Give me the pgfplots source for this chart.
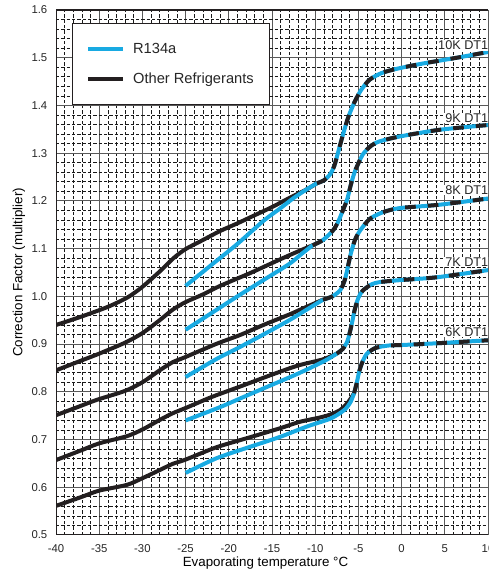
\documentclass[border=0pt]{standalone}
\usepackage{fontspec}
\setmainfont{Liberation Sans}
\usepackage{pgfplots}
\pgfplotsset{compat=1.18}
\definecolor{cyanR}{RGB}{24,170,226}
\definecolor{blk}{RGB}{35,31,32}
\begin{document}
\begin{tikzpicture}
\begin{axis}[
 width=324pt, height=393.75pt, scale only axis,
 xmin=-40, xmax=10, ymin=0.5, ymax=1.6,
 xtick={-40,-35,-30,-25,-20,-15,-10,-5,0,5,10},
 xticklabels={-40,-35,-30,-25,-20,-15,-10,-5,0,5,10},
 ytick={0.5,0.6,0.7,0.8,0.9,1.0,1.1,1.2,1.3,1.4,1.5,1.6},
 yticklabels={0.5,0.6,0.7,0.8,0.9,1.0,1.1,1.2,1.3,1.4,1.5,1.6},
 minor x tick num=4, minor y tick num=4,
 grid=both,
 major grid style={draw=black!65, line width=0.75pt},
 minor grid style={draw=black!90, line width=0.5pt, dash pattern=on 2.4pt off 1.6pt},
 major tick length=0pt, minor tick length=0pt,
 axis line style={draw=none},
 tick label style={font=\fontsize{8.5}{10}\selectfont, text=black!85},
 xticklabel style={yshift=-4pt},
 yticklabel style={xshift=-3pt},
 xlabel={Evaporating temperature °C},
 ylabel={Correction Factor (multiplier)},
 label style={font=\fontsize{9.3}{11}\selectfont, text=black!85},
 every axis x label/.style={at={(axis description cs:0.485,0)}, anchor=center, yshift=-21pt},
 every axis y label/.style={at={(axis description cs:-0.086,0.5)}, anchor=center, rotate=90},
 legend style={at={(axis description cs:0.037,0.975)}, anchor=north west, draw=blk, line width=0.7pt, fill=white, inner xsep=10.5pt, inner ysep=13.5pt, row sep=11pt, font=\fontsize{11}{13}\selectfont, text=black!85, cells={anchor=west}, nodes={inner sep=1pt}, /tikz/every odd column/.append style={column sep=5pt}},
 legend image code/.code={\draw[#1, line width=3pt, sharp plot] (0pt,0pt) -- (26pt,0pt);},
 every axis plot/.append style={line width=3pt, smooth, tension=0.45, line join=round},
]
\addlegendimage{cyanR}
\addlegendentry{R134a}
\addlegendimage{blk}
\addlegendentry{Other Refrigerants}

% 10K
\addplot[blk, forget plot] coordinates {(-40,0.940) (-37,0.958) (-34,0.978) (-31.7,0.998) (-30,1.020) (-28,1.052) (-26.4,1.080) (-25,1.099) (-23,1.118) (-21,1.137) (-19,1.153) (-17,1.170) (-15,1.187) (-13,1.206) (-11,1.224) (-9.8,1.237)};
\addplot[cyanR, forget plot] coordinates {(-25,1.022) (-22,1.066) (-19,1.110) (-16,1.158) (-14,1.185) (-12.5,1.206) (-11,1.224) (-9.8,1.237)};
\addplot[cyanR, forget plot] coordinates {(-9.8,1.237) (-9.0,1.243) (-8.3,1.255) (-7.8,1.273) (-7.3,1.305) (-6.8,1.338) (-6.2,1.374) (-5.5,1.405) (-4.7,1.432) (-3.7,1.454) (-2.3,1.468) (-0.5,1.477) (2.5,1.488) (6.4,1.500) (10,1.512)};
\addplot[blk, dash pattern=on 8pt off 9pt, forget plot] coordinates {(-9.8,1.237) (-9.0,1.243) (-8.3,1.255) (-7.8,1.273) (-7.3,1.305) (-6.8,1.338) (-6.2,1.374) (-5.5,1.405) (-4.7,1.432) (-3.7,1.454) (-2.3,1.468) (-0.5,1.477) (2.5,1.488) (6.4,1.500) (10,1.512)};

% 9K
\addplot[blk, forget plot] coordinates {(-40,0.845) (-37,0.866) (-35,0.880) (-32,0.903) (-30,0.923) (-28,0.950) (-26.5,0.972) (-25,0.988) (-23,1.004) (-21,1.022) (-17.5,1.049) (-14,1.078) (-12,1.094) (-10.3,1.107)};
\addplot[cyanR, forget plot] coordinates {(-25,0.930) (-22,0.965) (-19,1.000) (-16,1.034) (-13,1.068) (-11.5,1.090) (-10.3,1.107)};
\addplot[cyanR, forget plot] coordinates {(-10.3,1.107) (-9.1,1.118) (-7.9,1.139) (-7.3,1.158) (-6.8,1.180) (-6.3,1.203) (-5.9,1.232) (-5.4,1.262) (-4.5,1.297) (-3.5,1.316) (-2.5,1.325) (-0.2,1.335) (4.4,1.349) (10,1.359)};
\addplot[blk, dash pattern=on 8pt off 9pt, forget plot] coordinates {(-10.3,1.107) (-9.1,1.118) (-7.9,1.139) (-7.3,1.158) (-6.8,1.180) (-6.3,1.203) (-5.9,1.232) (-5.4,1.262) (-4.5,1.297) (-3.5,1.316) (-2.5,1.325) (-0.2,1.335) (4.4,1.349) (10,1.359)};

% 8K
\addplot[blk, forget plot] coordinates {(-40,0.751) (-37.5,0.768) (-35.3,0.783) (-32,0.802) (-30,0.820) (-28,0.845) (-26.5,0.862) (-25,0.873) (-21.5,0.900) (-18.7,0.919) (-16,0.940) (-13,0.962) (-11,0.978) (-9.1,0.993)};
\addplot[cyanR, forget plot] coordinates {(-25,0.831) (-21.5,0.868) (-18.7,0.894) (-16,0.920) (-13,0.950) (-11,0.972) (-9.1,0.993)};
\addplot[cyanR, forget plot] coordinates {(-9.1,0.993) (-8,1.000) (-7.1,1.013) (-6.6,1.033) (-6.3,1.055) (-5.9,1.088) (-5.4,1.118) (-4.8,1.138) (-3.7,1.162) (-2.2,1.176) (-0.2,1.185) (4.4,1.192) (10,1.205)};
\addplot[blk, dash pattern=on 8pt off 9pt, forget plot] coordinates {(-9.1,0.993) (-8,1.000) (-7.1,1.013) (-6.6,1.033) (-6.3,1.055) (-5.9,1.088) (-5.4,1.118) (-4.8,1.138) (-3.7,1.162) (-2.2,1.176) (-0.2,1.185) (4.4,1.192) (10,1.205)};

% 7K
\addplot[blk, forget plot] coordinates {(-40,0.657) (-37,0.678) (-35,0.692) (-31.8,0.707) (-30,0.721) (-28,0.741) (-26.5,0.755) (-25,0.766) (-22,0.789) (-18.7,0.811) (-15,0.836) (-12,0.855) (-9.1,0.868) (-7.5,0.880)};
\addplot[cyanR, forget plot] coordinates {(-25,0.740) (-21,0.768) (-18.7,0.786) (-16,0.807) (-12,0.838) (-9,0.864) (-7.5,0.880)};
\addplot[cyanR, forget plot] coordinates {(-7.5,0.880) (-6.8,0.890) (-6.3,0.905) (-6.0,0.924) (-5.7,0.948) (-5.4,0.974) (-5.0,0.997) (-4.5,1.012) (-3.5,1.025) (-2.5,1.030) (-0.2,1.034) (4.1,1.040) (10,1.055)};
\addplot[blk, dash pattern=on 8pt off 9pt, forget plot] coordinates {(-7.5,0.880) (-6.8,0.890) (-6.3,0.905) (-6.0,0.924) (-5.7,0.948) (-5.4,0.974) (-5.0,0.997) (-4.5,1.012) (-3.5,1.025) (-2.5,1.030) (-0.2,1.034) (4.1,1.040) (10,1.055)};

% 6K
\addplot[blk, forget plot] coordinates {(-40,0.561) (-37,0.580) (-35,0.593) (-31.8,0.605) (-30,0.619) (-28,0.636) (-26.5,0.649) (-25,0.658) (-21.4,0.684) (-17.5,0.705) (-14,0.724) (-11.8,0.737) (-9.5,0.746) (-8.3,0.752) (-7.1,0.762) (-6.2,0.778) (-5.5,0.797)};
\addplot[cyanR, forget plot] coordinates {(-25,0.630) (-21.4,0.661) (-17.5,0.685) (-14,0.706) (-11,0.727) (-8.5,0.742) (-7.5,0.751) (-6.5,0.764) (-5.9,0.779) (-5.5,0.797)};
\addplot[cyanR, forget plot] coordinates {(-5.5,0.797) (-5.2,0.818) (-4.9,0.843) (-4.5,0.864) (-4.0,0.880) (-3.0,0.892) (-1.5,0.897) (0,0.898) (4.4,0.902) (10,0.908)};
\addplot[blk, dash pattern=on 8pt off 9pt, forget plot] coordinates {(-5.5,0.797) (-5.2,0.818) (-4.9,0.843) (-4.5,0.864) (-4.0,0.880) (-3.0,0.892) (-1.5,0.897) (0,0.898) (4.4,0.902) (10,0.908)};

\draw[blk, line width=0.8pt] (rel axis cs:1,1) -- (rel axis cs:0,1) -- (rel axis cs:0,0) -- (rel axis cs:1,0);
\node[anchor=east, fill=white, inner sep=0.6pt, font=\fontsize{9.5}{11}\selectfont, text=black!85] at (axis cs:10.15,1.526) {10K DT1};
\node[anchor=east, fill=white, inner sep=0.6pt, font=\fontsize{9.5}{11}\selectfont, text=black!85] at (axis cs:10.15,1.374) {9K DT1};
\node[anchor=east, fill=white, inner sep=0.6pt, font=\fontsize{9.5}{11}\selectfont, text=black!85] at (axis cs:10.15,1.223) {8K DT1};
\node[anchor=east, fill=white, inner sep=0.6pt, font=\fontsize{9.5}{11}\selectfont, text=black!85] at (axis cs:10.15,1.072) {7K DT1};
\node[anchor=east, fill=white, inner sep=0.6pt, font=\fontsize{9.5}{11}\selectfont, text=black!85] at (axis cs:10.15,0.925) {6K DT1};
\coordinate (SW) at (rel axis cs:0,0);
\coordinate (NE) at (rel axis cs:1,1);
\end{axis}
\pgfresetboundingbox
\path ([shift={(-42pt,-33.75pt)}]SW) rectangle ([shift={(0pt,7.5pt)}]NE);
\end{tikzpicture}
\end{document}
